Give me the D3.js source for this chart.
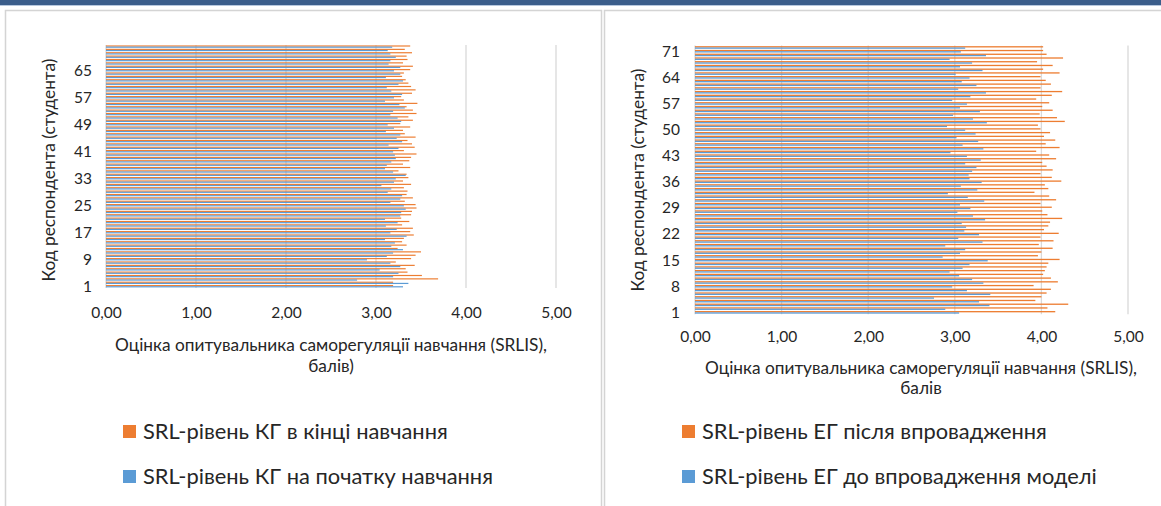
<!DOCTYPE html>
<html>
<head>
<meta charset="utf-8">
<script src="https://cdn.jsdelivr.net/npm/d3@7"></script>
<style>
  html, body { margin: 0; padding: 0; background: #fff; }
  svg { display: block; }
</style>
</head>
<body>
<svg id="chart" width="1161" height="506"></svg>
<script>
// Respondent codes 1..72 for both groups
const respondents = d3.range(1, 73);

// Control group (КГ): SRLIS score at the start and at the end of training
const kgStart = [
  3.30,3.36,2.79,3.19,3.25,3.04,3.27,3.16,2.90,3.12,
  3.19,3.30,3.17,3.21,3.10,3.34,3.16,3.23,3.11,3.24,
  3.10,3.27,3.28,3.33,3.31,3.16,3.27,3.29,3.13,3.17,
  3.06,3.20,3.22,3.33,3.19,3.10,3.12,3.17,3.22,3.21,
  3.19,3.25,3.14,3.29,3.23,3.27,3.11,3.20,3.13,3.28,
  3.24,3.16,3.19,3.32,3.26,3.10,3.20,3.29,3.17,3.12,
  3.25,3.30,3.11,3.27,3.20,3.27,3.14,3.16,3.22,3.16,
  3.13,3.18
];
const kgEnd = [
  3.19,3.19,3.69,3.51,3.35,3.33,3.43,3.22,3.39,3.44,
  3.50,3.24,3.34,3.29,3.31,3.42,3.38,3.41,3.29,3.37,
  3.28,3.39,3.40,3.45,3.44,3.32,3.41,3.34,3.35,3.31,
  3.39,3.30,3.36,3.34,3.25,3.38,3.30,3.37,3.39,3.45,
  3.31,3.43,3.40,3.35,3.44,3.32,3.30,3.38,3.27,3.41,
  3.36,3.45,3.41,3.34,3.46,3.31,3.28,3.40,3.44,3.39,
  3.36,3.33,3.29,3.31,3.38,3.41,3.30,3.35,3.34,3.40,
  3.32,3.38
];

// Experimental group (ЕГ): before and after introducing the model
const egBefore = [
  3.05,2.89,3.40,3.28,2.76,3.41,3.14,2.97,3.33,3.20,
  3.05,2.94,3.09,3.17,3.38,2.86,3.06,3.12,2.89,3.32,
  3.04,3.28,3.11,3.13,3.08,3.35,3.21,3.03,3.18,3.06,
  3.34,3.15,2.92,3.26,3.07,3.31,3.17,3.16,3.20,3.25,
  3.12,3.30,3.14,2.95,3.33,3.09,3.27,3.02,3.24,3.12,
  2.91,3.37,3.21,2.98,3.29,3.06,3.14,2.97,3.18,3.36,
  3.04,3.25,3.08,3.17,3.01,3.32,3.06,3.20,2.94,3.36,
  3.07,3.12
];
const egAfter = [
  4.16,4.07,4.31,3.93,4.00,4.06,4.11,3.91,4.19,4.11,
  4.02,4.04,4.06,4.08,4.21,3.96,4.00,4.13,3.97,4.14,
  3.99,4.20,4.03,4.08,4.10,4.24,4.07,4.01,4.12,3.99,
  4.17,4.09,3.92,4.08,4.04,4.23,4.12,3.99,4.13,4.06,
  4.01,4.17,4.09,3.94,4.21,4.05,4.16,4.03,4.10,3.99,
  3.96,4.27,4.18,3.98,4.13,4.01,4.09,3.94,4.12,4.24,
  3.99,4.11,4.05,3.99,4.21,4.02,4.13,3.95,4.25,4.06,
  4.02,4.02
];

// Axis ticks and labels
const xTicks = [0, 1, 2, 3, 4, 5];
const kgCategoryTicks = [1, 9, 17, 25, 33, 41, 49, 57, 65];
const egCategoryTicks = [1, 8, 15, 22, 29, 36, 43, 50, 57, 64, 71];
const yTitle = "Код респондента (студента)";
const xTitleLine1 = "Оцінка опитувальника саморегуляції навчання (SRLIS),";
const kgXTitleLine2 = "балів)";
const egXTitleLine2 = "балів";
const kgLegend = ["SRL-рівень КГ в кінці навчання", "SRL-рівень КГ на початку навчання"];
const egLegend = ["SRL-рівень ЕГ після впровадження", "SRL-рівень ЕГ до впровадження моделі"];

const ORANGE = "#ED7D31";
const BLUE = "#5B9BD5";
const GRID = "#d9d9d9";
const TEXT = "#262626";
const FONT = "Lato, 'Open Sans', sans-serif";

const uaLocale = d3.formatLocale({ decimal: ",", thousands: " ", grouping: [3], currency: ["", ""] });
const fmt = uaLocale.format(".2f");

const svg = d3.select("#chart");

// Window frame: dark header strip and the two panel outlines
svg.append("rect").attr("x", 0).attr("y", 0).attr("width", 1161).attr("height", 5).attr("fill", "#3b5e8b");
svg.append("rect").attr("x", 0).attr("y", 5).attr("width", 1161).attr("height", 1).attr("fill", "#b7c8de");
svg.append("rect").attr("x", 5.5).attr("y", 10.5).attr("width", 596).attr("height", 520)
  .attr("fill", "none").attr("stroke", "#d4d4d4").attr("stroke-width", 1.5);
svg.append("rect").attr("x", 604.5).attr("y", 10.5).attr("width", 600).attr("height", 520)
  .attr("fill", "none").attr("stroke", "#d4d4d4").attr("stroke-width", 1.5);

// Scale a text element's font size so it spans the given width
function fitWidth(sel, target) {
  const w = sel.node().getComputedTextLength();
  const fs = parseFloat(sel.attr("font-size"));
  const size = fs * target / w;
  sel.attr("font-size", size);
  return size;
}

function drawPanel(cfg) {
  const g = svg.append("g");
  const x = d3.scaleLinear().domain([0, 5]).range([cfg.x0, cfg.x5]);
  const y = d3.scaleBand().domain(respondents).range([cfg.bottom, cfg.top])
    .paddingInner(0.3).paddingOuter(0.15);
  const ys = d3.scaleBand().domain(["after", "before"]).range([0, y.bandwidth()]);

  // vertical gridlines (0 is the category axis line)
  g.append("g").selectAll("line").data(xTicks).join("line")
    .attr("x1", d => x(d)).attr("x2", d => x(d))
    .attr("y1", cfg.top).attr("y2", cfg.bottom)
    .attr("stroke", GRID).attr("stroke-width", 1.3);

  const rows = respondents.map((r, i) => ({ r, before: cfg.before[i], after: cfg.after[i] }));

  g.append("g").selectAll("rect").data(rows).join("rect")
    .attr("x", x(0)).attr("y", d => y(d.r) + ys("after"))
    .attr("width", d => x(d.after) - x(0)).attr("height", ys.bandwidth())
    .attr("fill", ORANGE);
  g.append("g").selectAll("rect").data(rows).join("rect")
    .attr("x", x(0)).attr("y", d => y(d.r) + ys("before"))
    .attr("width", d => x(d.before) - x(0)).attr("height", ys.bandwidth())
    .attr("fill", BLUE);

  // value axis
  const xAxis = d3.axisBottom(x).tickValues(xTicks).tickFormat(fmt).tickSize(0).tickPadding(0);
  const xa = g.append("g").attr("transform", `translate(0,${cfg.tickY})`).call(xAxis);
  xa.select(".domain").remove();
  xa.selectAll("text").attr("font-family", FONT).attr("font-size", 15.5).attr("fill", TEXT)
    .attr("dy", "0.35em").attr("y", 0);

  // category axis
  const yAxis = d3.axisLeft(y).tickValues(cfg.catTicks).tickSize(0).tickPadding(0);
  const ya = g.append("g").attr("transform", `translate(${cfg.catLabelX},0)`).call(yAxis);
  ya.select(".domain").remove();
  ya.selectAll("text").attr("font-family", FONT).attr("font-size", 15.5).attr("fill", TEXT)
    .attr("x", 0).attr("dy", "0.35em");

  // axis titles
  const t1 = g.append("text").attr("x", cfg.titleX).attr("y", cfg.titleY1).attr("dy", "0.35em")
    .attr("text-anchor", "middle").attr("font-family", FONT).attr("font-size", 15).attr("fill", TEXT)
    .text(xTitleLine1);
  const ts = fitWidth(t1, 432);
  g.append("text").attr("x", cfg.titleX).attr("y", cfg.titleY2).attr("dy", "0.35em")
    .attr("text-anchor", "middle").attr("font-family", FONT).attr("font-size", ts).attr("fill", TEXT)
    .text(cfg.title2);

  g.append("text")
    .attr("transform", `translate(${cfg.yTitleX},${cfg.yTitleY}) rotate(-90)`)
    .attr("dy", "0.35em").attr("text-anchor", "middle")
    .attr("font-family", FONT).attr("font-size", ts).attr("fill", TEXT)
    .text(yTitle);

  // legend: orange series first, blue second
  const legend = [
    { label: cfg.legend[0], color: ORANGE, y: 431.5 },
    { label: cfg.legend[1], color: BLUE, y: 476.5 }
  ];
  let lsize = null;
  legend.forEach((d, i) => {
    g.append("rect").attr("x", cfg.legendX).attr("y", d.y - 6.5)
      .attr("width", 13).attr("height", 13).attr("fill", d.color);
    const t = g.append("text").attr("x", cfg.legendX + 20).attr("y", d.y).attr("dy", "0.35em")
      .attr("font-family", FONT).attr("font-size", 19).attr("fill", TEXT).text(d.label);
    if (i === 0) lsize = fitWidth(t, cfg.legendW);
    else t.attr("font-size", lsize);
  });
}

drawPanel({
  x0: 106, x5: 556, top: 44.9, bottom: 287.9,
  before: kgStart, after: kgEnd, catTicks: kgCategoryTicks,
  tickY: 313, catLabelX: 92,
  titleX: 331, titleY1: 345, titleY2: 366, title2: kgXTitleLine2,
  yTitleX: 49, yTitleY: 170,
  legend: kgLegend, legendX: 123, legendW: 305
});

drawPanel({
  x0: 695, x5: 1128, top: 45.6, bottom: 314.2,
  before: egBefore, after: egAfter, catTicks: egCategoryTicks,
  tickY: 337, catLabelX: 680,
  titleX: 921, titleY1: 368, titleY2: 388, title2: egXTitleLine2,
  yTitleX: 638, yTitleY: 180,
  legend: egLegend, legendX: 682, legendW: 345
});
</script>
</body>
</html>
